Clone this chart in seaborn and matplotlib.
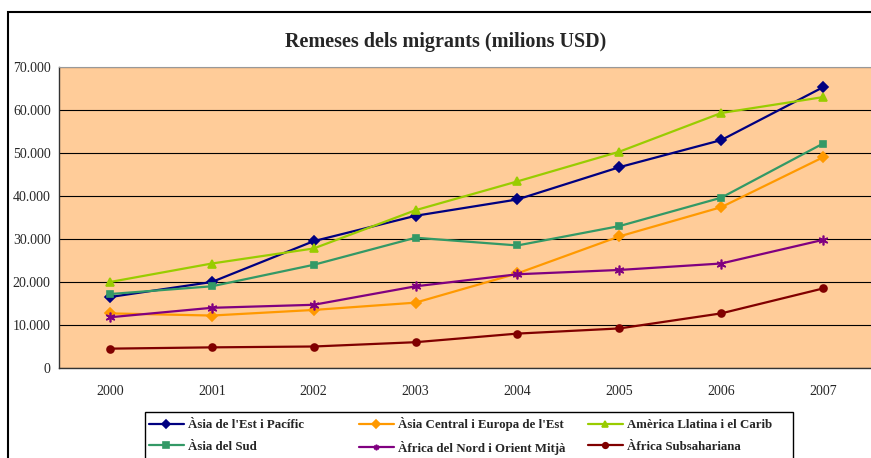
import pandas as pd
import matplotlib.pyplot as plt
import seaborn as sns
from matplotlib.patches import Rectangle
from matplotlib.ticker import FuncFormatter

# Remeses dels migrants (milions USD), valors llegits del gràfic
years = ["2000", "2001", "2002", "2003", "2004", "2005", "2006", "2007"]
asia_est = [16500, 20000, 29500, 35400, 39200, 46700, 53000, 65300]
asia_central = [12700, 12200, 13500, 15200, 22000, 30600, 37400, 49000]
america_llatina = [20000, 24300, 27800, 36700, 43400, 50300, 59300, 63000]
asia_sud = [17200, 19000, 24000, 30300, 28500, 33000, 39600, 52200]
africa_nord = [11800, 14000, 14700, 19000, 21800, 22800, 24300, 29800]
africa_sub = [4500, 4800, 5000, 6000, 8000, 9200, 12700, 18500]

series = [
    ("Àsia de l'Est i Pacífic", asia_est, "#000080", "D", 5),
    ("Àsia Central i Europa de l'Est", asia_central, "#FF9900", "D", 5),
    ("Amèrica Llatina i el Carib", america_llatina, "#99CC00", "^", 6),
    ("Àsia del Sud", asia_sud, "#339966", "s", 5),
    ("Àfrica del Nord i Orient Mitjà", africa_nord, "#800080", (6, 2, 0), 7),
    ("Àfrica Subsahariana", africa_sub, "#800000", "o", 5),
]

sns.set_style("white")
plt.rcParams["font.family"] = ["Liberation Serif", "DejaVu Serif"]

fig = plt.figure(figsize=(8.71, 4.58), dpi=100)
ax = fig.add_axes([59 / 871, 1 - 368 / 458, 815 / 871, 301 / 458])
ax.set_facecolor("#FFCC99")

lines = {}
for name, vals, color, marker, ms in series:
    df = pd.DataFrame({"any": years, "valor": vals})
    sns.lineplot(data=df, x="any", y="valor", ax=ax, color=color, marker=marker,
                 markersize=ms, markeredgecolor=color, markeredgewidth=1.2,
                 linewidth=1.6, label=name, legend=False)
    lines[name] = ax.lines[-1]

ax.set_ylim(0, 70000)
ax.set_xlim(-0.5, len(years) - 0.5)
ax.set_yticks(range(0, 70001, 10000))
ax.yaxis.set_major_formatter(FuncFormatter(lambda v, p: f"{int(v):,}".replace(",", ".")))
ax.grid(axis="y", color="black", linewidth=0.8)
ax.set_axisbelow(True)

# ticks de l'eix x a les fronteres, etiquetes al centre
ax.set_xticks([i - 0.5 for i in range(len(years) + 1)])
ax.set_xticklabels([])
ax.set_xticks(range(len(years)), minor=True)
ax.set_xticklabels(years, minor=True)
ax.tick_params(axis="x", which="major", direction="out", length=4, width=0.8, color="#333333")
ax.tick_params(axis="x", which="minor", length=0, pad=12, labelsize=10)
ax.tick_params(axis="y", direction="out", length=4, width=0.8, color="#333333", labelsize=10, pad=2)
ax.set_xlabel("")
ax.set_ylabel("")
for s in ["left", "bottom"]:
    ax.spines[s].set_color("#333333")
    ax.spines[s].set_linewidth(1)
ax.spines["top"].set_color("#999999")
ax.spines["right"].set_visible(False)

fig.text(446 / 871, 1 - 42 / 458, "Remeses dels migrants (milions USD)",
         ha="center", va="center", fontsize=14.5, fontweight="bold")

# vora exterior del gràfic
fig.patches.append(Rectangle((8 / 871, -0.1), 1.2, 1 - 12 / 458 + 0.1, transform=fig.transFigure,
                             fill=False, edgecolor="black", linewidth=1.5))
# marc de la llegenda
fig.patches.append(Rectangle((145 / 871, -0.1), (793 - 145) / 871, 1 - 412 / 458 + 0.1,
                             transform=fig.transFigure, fill=False, edgecolor="black", linewidth=1))

cols = [
    (149, ["Àsia de l'Est i Pacífic", "Àsia del Sud"]),
    (359, ["Àsia Central i Europa de l'Est", "Àfrica del Nord i Orient Mitjà"]),
    (588, ["Amèrica Llatina i el Carib", "Àfrica Subsahariana"]),
]
for x0, names in cols:
    leg = fig.legend([lines[n] for n in names], names, loc="center left",
                     bbox_to_anchor=(x0 / 871, 1 - 436 / 458), frameon=False,
                     prop={"weight": "bold", "size": 9.3}, handlelength=2.7,
                     handletextpad=0.35, labelspacing=0.75, borderpad=0, borderaxespad=0)
    for h in leg.legend_handles:
        h.set_markersize(4)

fig.savefig("out.png", dpi=100)
